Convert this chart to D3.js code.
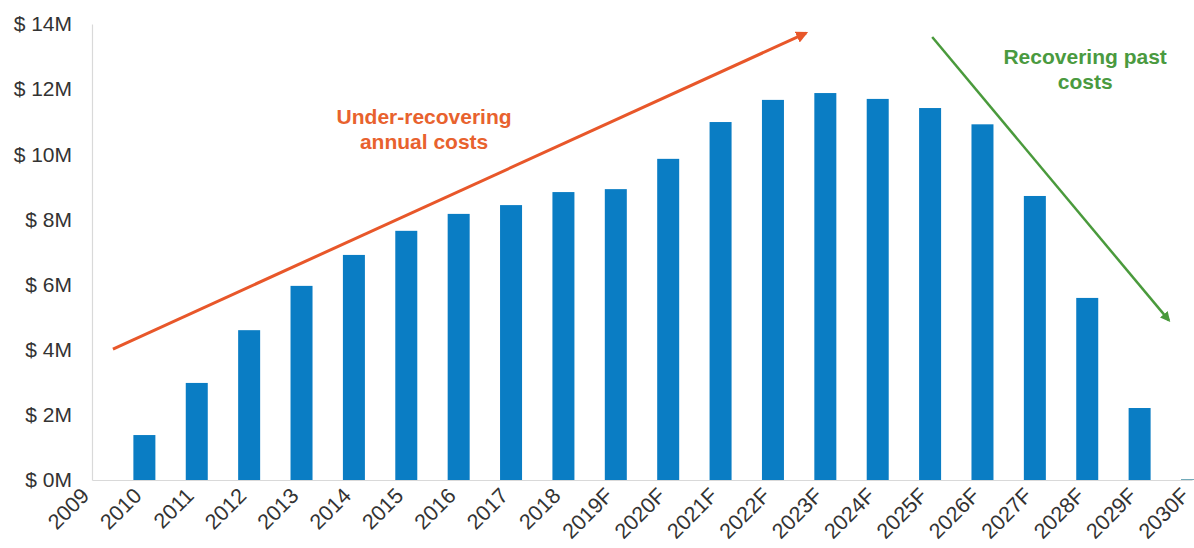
<html><head>
<meta charset="utf-8">
<script src="https://d3js.org/d3.v7.min.js"></script>
<style>
  body { margin: 0; background: #fff; }
  .axis text { font-family: "Liberation Sans", Arial, sans-serif; fill: #333; }
  .axis path { stroke: #d9d9d9; stroke-width: 1.2px; }
  .note { font-family: "Liberation Sans", Arial, sans-serif; font-weight: bold; font-size: 21px; }
</style>
</head>
<body>
<svg id="chart" width="1194" height="548"></svg>
<script>

  // chart data ($ millions per year, F = forecast)
  const years = ["2009","2010","2011","2012","2013","2014","2015","2016","2017","2018",
                 "2019F","2020F","2021F","2022F","2023F","2024F","2025F","2026F","2027F","2028F","2029F","2030F"];
  const costs = [0, 1.38, 2.98, 4.6, 5.96, 6.91, 7.65, 8.17, 8.44, 8.84,
                 8.93, 9.86, 10.99, 11.67, 11.88, 11.7, 11.42, 10.92, 8.72, 5.59, 2.21, 0.03];
  const yTicks = [0, 2, 4, 6, 8, 10, 12, 14];

  // annotation arrows, in (category index, $M)
  const orangeArrow = [[0.4, 4.02], [13.63, 13.72]];
  const greenArrow = [[16.04, 13.6], [20.56, 4.9]];
  const orangeLabel = { i: 6.34, v: 10.93, lines: ["Under-recovering", "annual costs"] };
  const greenLabel = { i: 18.96, v: 12.77, lines: ["Recovering past", "costs"] };

  const svg = d3.select("#chart");
  const plotLeft = 92, plotRight = 1192, plotTop = 24, plotBottom = 480;
  const barWidth = 22;

  const x = d3.scalePoint().domain(years).range([plotLeft, plotRight]);
  const xi = d3.scaleLinear().domain([0, years.length - 1]).range([plotLeft, plotRight]);
  const y = d3.scaleLinear().domain([0, 14]).range([plotBottom, plotTop]);

  // bars
  svg.append("g").selectAll("rect").data(years.slice(1))
    .join("rect")
    .attr("x", d => x(d) - barWidth / 2)
    .attr("y", (d, i) => y(costs[i + 1]))
    .attr("width", barWidth)
    .attr("height", (d, i) => plotBottom - y(costs[i + 1]))
    .attr("fill", (d, i) => costs[i + 1] < 0.1 ? "#6fa8b8" : "#0a7dc4");

  // y axis
  const yAxis = svg.append("g")
    .attr("class", "axis")
    .attr("transform", "translate(" + plotLeft + ",0)")
    .call(d3.axisLeft(y).tickValues(yTicks).tickSize(0).tickPadding(20).tickFormat(d => "$ " + d + "M"));
  yAxis.selectAll("text").style("font-size", "21px");

  // x axis
  const xAxis = svg.append("g")
    .attr("class", "axis")
    .attr("transform", "translate(0," + plotBottom + ")")
    .call(d3.axisBottom(x).tickSize(0).tickSizeOuter(0));
  xAxis.selectAll("text")
    .style("font-size", "21.5px")
    .attr("text-anchor", "end")
    .attr("x", 0).attr("y", 0).attr("dy", 0)
    .attr("transform", "translate(-2,17) rotate(-45)");

  // arrowheads
  const defs = svg.append("defs");
  [["arrowOrange", "#e8572a"], ["arrowGreen", "#4a9a3c"]].forEach(m => {
    defs.append("marker")
      .attr("id", m[0])
      .attr("viewBox", "0 0 10 10")
      .attr("refX", 8).attr("refY", 5)
      .attr("markerWidth", 4).attr("markerHeight", 4)
      .attr("orient", "auto")
      .append("path")
      .attr("d", "M0,0 L10,5 L0,10 z")
      .attr("fill", m[1]);
  });

  const line = d3.line().x(d => xi(d[0])).y(d => y(d[1]));
  svg.append("path").attr("d", line(orangeArrow))
    .attr("stroke", "#e8572a").attr("stroke-width", 3).attr("fill", "none")
    .attr("marker-end", "url(#arrowOrange)");
  svg.append("path").attr("d", line(greenArrow))
    .attr("stroke", "#4a9a3c").attr("stroke-width", 2.5).attr("fill", "none")
    .attr("marker-end", "url(#arrowGreen)");

  // annotation text
  [[orangeLabel, "#e8622e"], [greenLabel, "#4a9a40"]].forEach(n => {
    const t = svg.append("text")
      .attr("class", "note")
      .attr("text-anchor", "middle")
      .attr("fill", n[1])
      .attr("x", xi(n[0].i))
      .attr("y", y(n[0].v));
    n[0].lines.forEach((s, k) => {
      t.append("tspan").attr("x", xi(n[0].i)).attr("dy", k === 0 ? 0 : 25).text(s);
    });
  });

</script>
</body>
</html>
